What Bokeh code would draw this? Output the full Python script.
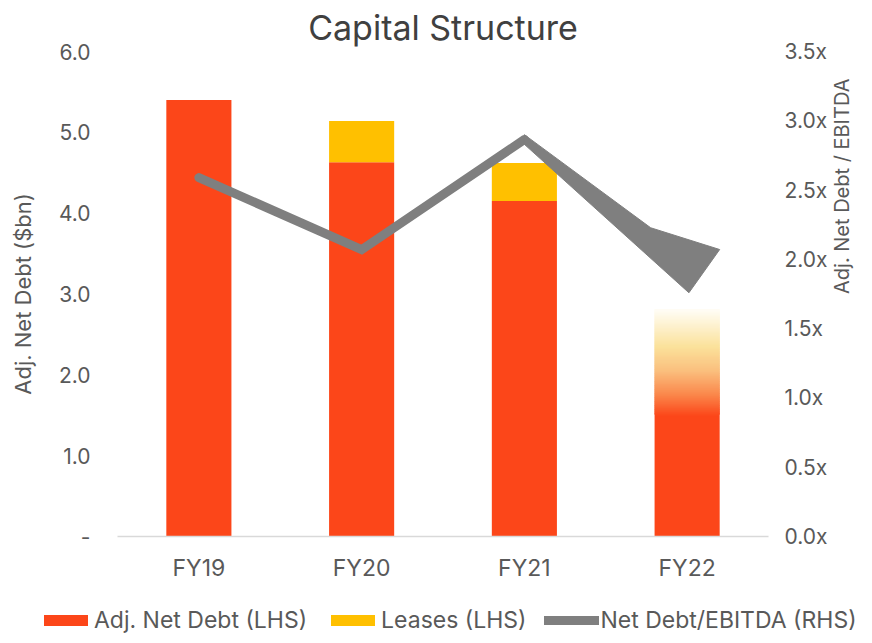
import math
import numpy as np
from bokeh.plotting import figure
from bokeh.layouts import column
from bokeh.models import (Range1d, LinearAxis, FixedTicker, Legend, LegendItem,
                          ColumnDataSource, CustomJSTickFormatter)
from bokeh.embed import file_html
from bokeh.resources import INLINE

# ---------------- data ----------------
categories = ["FY19", "FY20", "FY21", "FY22"]
adj_net_debt = [5.40, 4.63, 4.15, 1.49]      # solid part of the bar ($bn)
leases = [0.0, 0.51, 0.47, 0.0]              # leases stacked on top ($bn)
fy22_range_top = 2.81                        # top of the faded FY22 range ($bn)
net_debt_ebitda = [2.59, 2.07, 2.865]        # FY19-FY21 (x)
# FY22 outlook wedge (index position, ratio)
wedge_x = [2.0, 2.776, 3.20, 3.011, 2.0]
wedge_y = [2.90, 2.228, 2.071, 1.759, 2.83]

RED = "#FC4619"
YELLOW = "#FFC000"
GREY = "#7F7F7F"
FONT = "Inter"
TXT = "#595959"

x = list(range(len(categories)))

p = figure(frame_width=651, frame_height=485, output_backend="svg", toolbar_location=None,
           x_range=Range1d(-0.5, 3.5), y_range=Range1d(0, 6.0),
           min_border_left=117, min_border_right=94, min_border_top=44,
           min_border_bottom=68, outline_line_color=None)
p.extra_y_ranges = {"ratio": Range1d(0, 3.5)}
p.grid.visible = False

# title
p.title.text = "Capital Structure"
p.title.align = "center"
p.title.text_font = FONT
p.title.text_font_size = "34px"
p.title.text_font_style = "normal"
p.title.text_color = "#404040"
p.title.standoff = 8

# bars
src = ColumnDataSource(dict(x=x, debt=adj_net_debt,
                            lb=adj_net_debt,
                            lt=[d + l for d, l in zip(adj_net_debt, leases)]))
r_debt = p.vbar(x="x", top="debt", bottom=0, width=0.4, source=src,
                fill_color=RED, line_color=None)
r_lease = p.vbar(x="x", bottom="lb", top="lt", width=0.4, source=src,
                 fill_color=YELLOW, line_color=None)

# FY22 gradient (red -> orange -> pale yellow -> white)
stops_f = [0.0, 0.2, 0.42, 0.65, 1.0]
stops_c = [(252, 70, 25), (250, 135, 75), (250, 190, 125), (251, 226, 155), (255, 253, 247)]
n = 80
g_lo = adj_net_debt[3]
edges = np.linspace(g_lo, fy22_range_top, n + 1)
cols = []
for i in range(n):
    f = (i + 0.5) / n
    rgb = [int(round(np.interp(f, stops_f, [c[k] for c in stops_c]))) for k in range(3)]
    cols.append("#%02x%02x%02x" % tuple(rgb))
tops = list(edges[1:-1] + 0.02) + [edges[-1]]
p.vbar(x=[x[3]] * n, bottom=edges[:-1], top=tops, width=0.4,
       fill_color=cols, line_color=None)

# ratio line
r_line = p.line(x=x[:3], y=net_debt_ebitda, y_range_name="ratio",
                line_color=GREY, line_width=9, line_cap="round", line_join="miter")
p.patch(x=wedge_x, y=wedge_y, y_range_name="ratio", fill_color=GREY, line_color=GREY,
        line_width=1)

# axes
xa = p.xaxis[0]
xa.ticker = FixedTicker(ticks=x)
xa.major_label_overrides = {i: c for i, c in zip(x, categories)}
xa.axis_label = None
xa.axis_line_color = "#D9D9D9"
xa.axis_line_width = 1.5
xa.major_tick_line_color = None
xa.minor_tick_line_color = None
xa.major_tick_out = 0
xa.major_tick_in = 0
xa.major_label_text_font = FONT
xa.major_label_text_font_size = "23px"
xa.major_label_text_color = TXT
xa.major_label_standoff = 17

ya = p.yaxis[0]
ya.ticker = FixedTicker(ticks=[0, 1, 2, 3, 4, 5, 6])
ya.formatter = CustomJSTickFormatter(code="return tick == 0 ? '-' : tick.toFixed(1);")
ya.axis_line_color = None
ya.major_tick_line_color = None
ya.minor_tick_line_color = None
ya.major_tick_out = 0
ya.major_tick_in = 0
ya.major_label_text_font = FONT
ya.major_label_text_font_size = "21px"
ya.major_label_text_color = TXT
ya.major_label_standoff = 27
ya.axis_label = "Adj. Net Debt ($bn)"
ya.axis_label_text_font = FONT
ya.axis_label_text_font_size = "22px"
ya.axis_label_text_font_style = "normal"
ya.axis_label_text_color = TXT
ya.axis_label_standoff = 20

ra = LinearAxis(y_range_name="ratio", ticker=FixedTicker(ticks=[0, 0.5, 1, 1.5, 2, 2.5, 3, 3.5]),
                formatter=CustomJSTickFormatter(code="return tick.toFixed(1) + 'x';"))
ra.axis_line_color = None
ra.major_tick_line_color = None
ra.minor_tick_line_color = None
ra.major_tick_out = 0
ra.major_tick_in = 0
ra.major_label_text_font = FONT
ra.major_label_text_font_size = "21px"
ra.major_label_text_color = TXT
ra.major_label_standoff = 16
ra.axis_label = "Adj. Net Debt / EBITDA"
ra.axis_label_text_font = FONT
ra.axis_label_text_font_size = "20px"
ra.axis_label_text_font_style = "normal"
ra.axis_label_text_color = TXT
ra.axis_label_standoff = 11
try:
    ra.axis_label_orientation = math.pi / 2
except Exception:
    pass
p.add_layout(ra, "right")

# legend strip below the chart (its own plot, frame not aligned to the chart)
lg = figure(width=856, height=30, output_backend="svg", toolbar_location=None,
            x_range=Range1d(100, 101), y_range=Range1d(100, 101),
            min_border_left=0, min_border_top=0, min_border_bottom=0, min_border_right=0,
            outline_line_color=None)
lg.axis.visible = False
lg.grid.visible = False
for fig in (p, lg):
    try:
        fig.frame_align = False
    except Exception:
        pass
l1 = lg.vbar(x="x", top="debt", width=0.4, source=src, fill_color=RED, line_color=None)
l2 = lg.vbar(x="x", bottom="lb", top="lt", width=0.4, source=src, fill_color=YELLOW, line_color=None)
l3 = lg.line(x=x[:3], y=net_debt_ebitda, line_color=GREY, line_width=9, line_cap="round")
legend = Legend(items=[
    LegendItem(label="Adj. Net Debt (LHS)", renderers=[l1]),
    LegendItem(label="Leases (LHS)", renderers=[l2]),
    LegendItem(label="Net Debt/EBITDA (RHS)", renderers=[l3]),
], orientation="horizontal", location=(38, 0), padding=0, margin=0,
    border_line_color=None, background_fill_alpha=0, glyph_width=55, glyph_height=14,
    label_standoff=1, spacing=18, label_text_font=FONT, label_text_font_size="23px",
    label_text_color=TXT, label_height=26)
lg.add_layout(legend, "center")

layout = column(p, lg, spacing=0)
open("out.html", "w").write(file_html(layout, INLINE))
